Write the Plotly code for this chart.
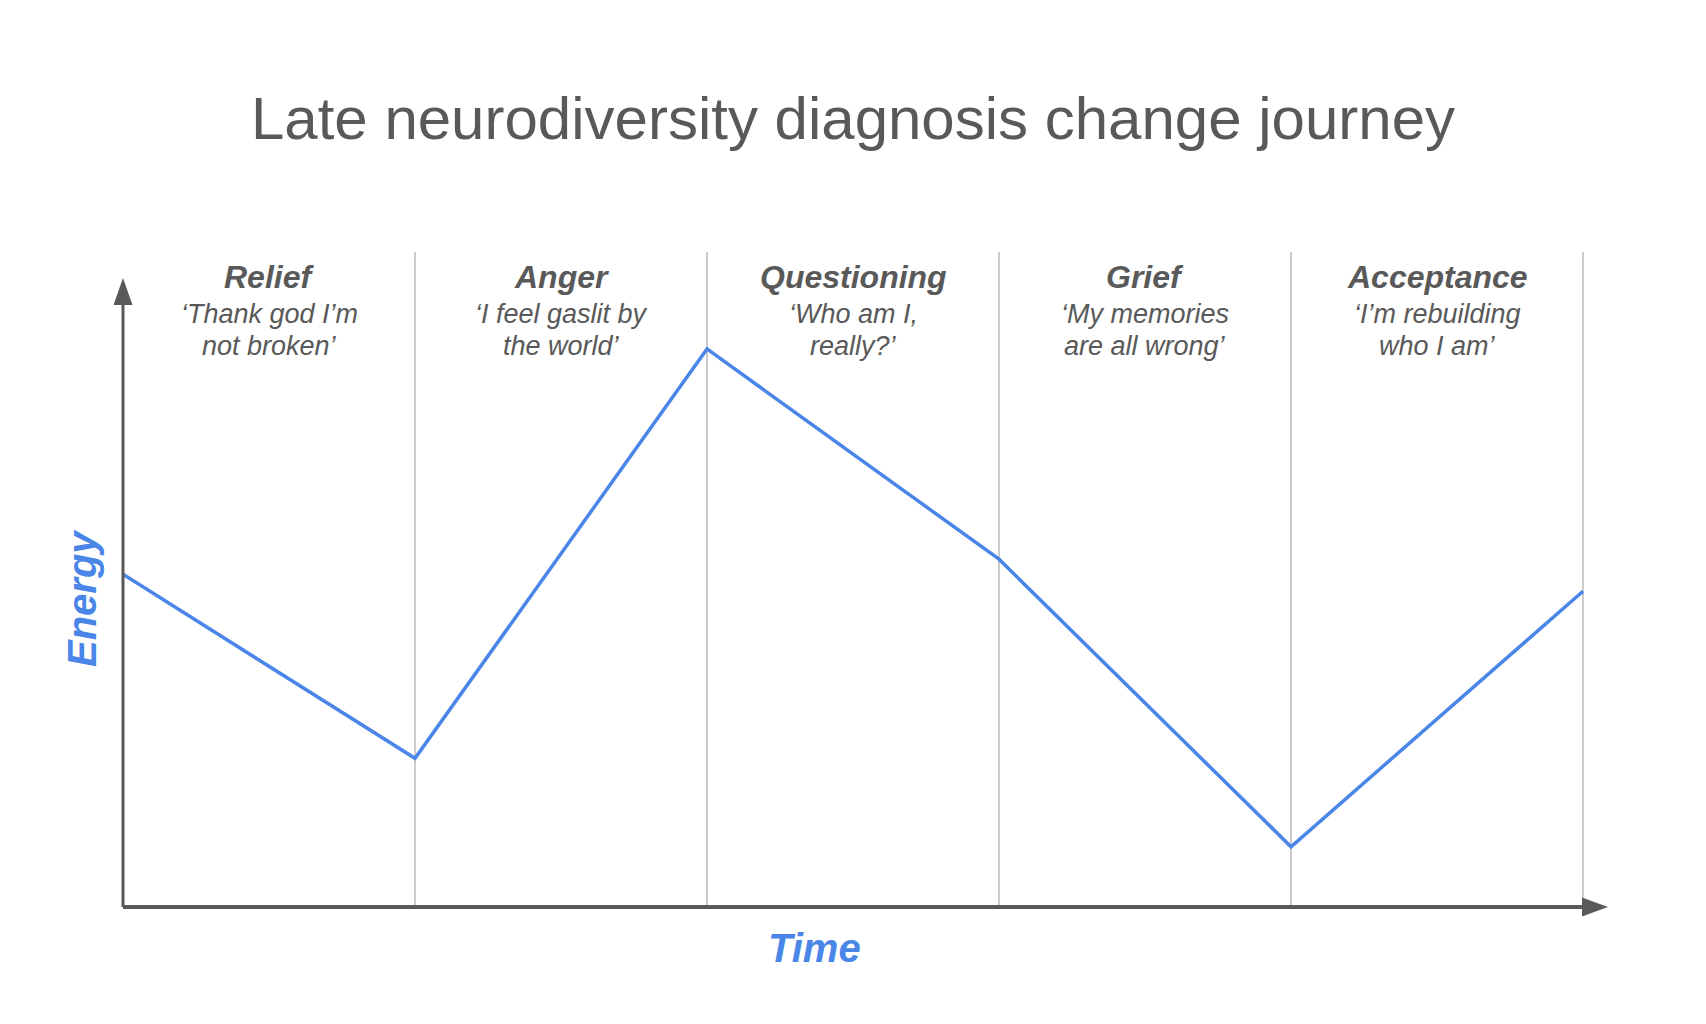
import plotly.graph_objects as go

# ---- data ----
time_points = [0, 1, 2, 3, 4, 5]
energy = [50.8, 22.7, 85.2, 53.1, 9.2, 48.2]
stages = ["Relief", "Anger", "Questioning", "Grief", "Acceptance"]
stage_x = [0.5, 1.5, 2.5, 3.5, 4.5]
quote_line1 = ["‘Thank god I’m", "‘I feel gaslit by", "‘Who am I,", "‘My memories", "‘I’m rebuilding"]
quote_line2 = ["not broken’", "the world’", "really?’", "are all wrong’", "who I am’"]
boundaries = [1, 2, 3, 4, 5]

TITLE = "Late neurodiversity diagnosis change journey"
FONT = "Liberation Sans, Arial, sans-serif"
GREY = "#595959"
BLUE = "#4a86e8"

X_MAX = 5.0856
Y_MAX = 100

# figure geometry (page body has an 8px margin)
W, H = 1690, 1008
ML, MR, MT, MB = 115, 90, 244, 109
PLOT_H = H - MT - MB


def y_paper(fig_px):
    return (H - MB - fig_px) / PLOT_H


fig = go.Figure()
fig.add_trace(go.Scatter(
    x=time_points, y=energy, mode="lines",
    line=dict(color=BLUE, width=3.5),
    hoverinfo="skip", showlegend=False,
))

# axis lines (paper refs so they are not clipped)
fig.add_shape(type="line", xref="paper", yref="paper", x0=0, x1=5.0 / X_MAX, y0=0, y1=0,
              line=dict(color=GREY, width=4), layer="above")
fig.add_shape(type="line", xref="paper", yref="paper", x0=0, x1=0, y0=0, y1=y_paper(297),
              line=dict(color=GREY, width=3), layer="above")
# arrowheads
fig.add_shape(type="path", xref="paper", yref="paper", xsizemode="pixel", ysizemode="pixel",
              xanchor=1, yanchor=0, path="M0,0 L-26,9.5 L-26,-9.5 Z",
              fillcolor=GREY, line=dict(width=0), layer="above")
fig.add_shape(type="path", xref="paper", yref="paper", xsizemode="pixel", ysizemode="pixel",
              xanchor=0, yanchor=y_paper(270), path="M0,0 L-9.5,-27 L9.5,-27 Z",
              fillcolor=GREY, line=dict(width=0), layer="above")

# stage labels
for sx, name, q1, q2 in zip(stage_x, stages, quote_line1, quote_line2):
    fig.add_annotation(x=sx, y=y_paper(268.8), xref="x", yref="paper", text=f"<b><i>{name}</i></b>",
                       showarrow=False, font=dict(family=FONT, size=32, color=GREY),
                       xanchor="center", yanchor="middle")
    fig.add_annotation(x=sx, y=y_paper(306), xref="x", yref="paper", text=f"<i>{q1}</i>",
                       showarrow=False, font=dict(family=FONT, size=27, color=GREY),
                       xanchor="center", yanchor="middle")
    fig.add_annotation(x=sx, y=y_paper(337.5), xref="x", yref="paper", text=f"<i>{q2}</i>",
                       showarrow=False, font=dict(family=FONT, size=27, color=GREY),
                       xanchor="center", yanchor="middle")

# axis titles
fig.add_annotation(x=(806 - ML) / (W - ML - MR), y=y_paper(940), xref="paper", yref="paper",
                   text="<b><i>Time</i></b>", showarrow=False,
                   font=dict(family=FONT, size=40, color=BLUE),
                   xanchor="center", yanchor="middle")
fig.add_annotation(x=(74 - ML) / (W - ML - MR), y=y_paper(591), xref="paper", yref="paper",
                   text="<b><i>Energy</i></b>", showarrow=False, textangle=-90,
                   font=dict(family=FONT, size=40, color=BLUE),
                   xanchor="center", yanchor="middle")

fig.update_layout(
    width=W, height=H,
    paper_bgcolor="white", plot_bgcolor="white",
    margin=dict(l=ML, r=MR, t=MT, b=MB),
    title=dict(text=TITLE, x=0.5, xref="container", xanchor="center",
               y=1 - 109.5 / H, yref="container", yanchor="middle",
               font=dict(family=FONT, size=60, color=GREY)),
    xaxis=dict(range=[0, X_MAX], tickvals=boundaries, showgrid=True, gridcolor="#cccccc",
               gridwidth=2, showticklabels=False, ticks="", zeroline=False, showline=False,
               fixedrange=True),
    yaxis=dict(range=[0, Y_MAX], showgrid=False, showticklabels=False, ticks="",
               zeroline=False, showline=False, fixedrange=True),
    showlegend=False,
)

fig.write_html("out.html", config={"displayModeBar": False})
